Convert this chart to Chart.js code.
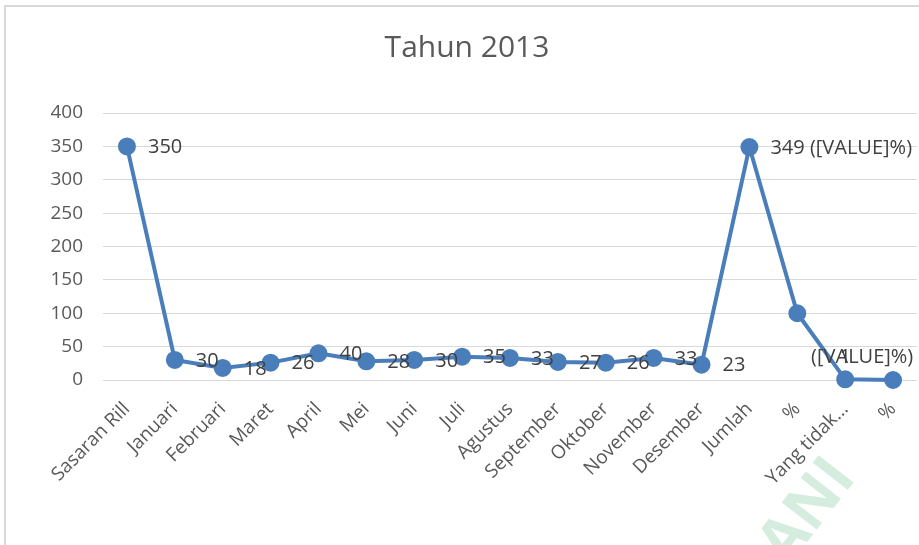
<!DOCTYPE html>
<html>
<head>
<meta charset="utf-8">
<script src="https://cdn.jsdelivr.net/npm/chart.js@4"></script>
<style>
  html, body { margin: 0; padding: 0; background: #fff; }
  #wrap { position: relative; width: 919px; height: 545px; }
</style>
</head>
<body>
<div id="wrap"><canvas id="lineChart" width="919" height="545"></canvas></div>
<script>
// data
const categories = ['Sasaran Rill', 'Januari', 'Februari', 'Maret', 'April', 'Mei', 'Juni', 'Juli',
  'Agustus', 'September', 'Oktober', 'November', 'Desember', 'Jumlah', '%', 'Yang tidak...', '%'];
const values = [350, 30, 18, 26, 40, 28, 30, 35, 33, 27, 26, 33, 23, 349, 100, 1, 0];
const pointLabels = ['350', '30', '18', '26', '40', '28', '30', '35', '33', '27', '26', '33', '23',
  '349 ([VALUE]%)', '', '1', ''];
const yTicks = [0, 50, 100, 150, 200, 250, 300, 350, 400];
const chartTitle = 'Tahun 2013';

const FONT = '"Open Sans", Lato, sans-serif';
const GREY = '#595959';

// frame, title and the faint watermark
const decor = {
  id: 'decor',
  beforeDraw(chart) {
    const ctx = chart.ctx;
    ctx.save();
    ctx.strokeStyle = '#d9d9d9';
    ctx.lineWidth = 2;
    ctx.beginPath();
    ctx.moveTo(5, 560);
    ctx.lineTo(5, 6);
    ctx.lineTo(930, 6);
    ctx.stroke();

    ctx.fillStyle = GREY;
    ctx.font = '30px ' + FONT;
    ctx.textAlign = 'center';
    ctx.textBaseline = 'middle';
    ctx.fillText(chartTitle, 467, 48);

    ctx.translate(808, 512);
    ctx.rotate(-52 * Math.PI / 180);
    ctx.fillStyle = 'rgba(160, 215, 185, 0.45)';
    ctx.font = 'bold 62px ' + FONT;
    ctx.fillText('ANI', 0, 0);
    ctx.restore();
  }
};

// data labels, drawn to the right of each point like the original
const pointText = {
  id: 'pointText',
  afterDatasetsDraw(chart) {
    const ctx = chart.ctx;
    const pts = chart.getDatasetMeta(0).data;
    ctx.save();
    ctx.font = '20px ' + FONT;
    ctx.fillStyle = '#404040';
    ctx.textBaseline = 'middle';
    pts.forEach((p, i) => {
      const txt = pointLabels[i];
      if (!txt) return;
      if (categories[i] === 'Yang tidak...') {
        // label sits above the point, overlapping the percent placeholder
        ctx.textAlign = 'center';
        ctx.fillText('([VALUE]%)', p.x + 17, p.y - 22);
        ctx.fillText(txt, p.x, p.y - 22);
        return;
      }
      ctx.textAlign = 'left';
      ctx.fillText(txt, p.x + 21, p.y + 1);
    });
    ctx.restore();
  }
};

const ctx = document.getElementById('lineChart').getContext('2d');
const lineChart = new Chart(ctx, {
  type: 'line',
  data: {
    labels: categories,
    datasets: [{
      label: chartTitle,
      data: values,
      borderColor: '#4a7ebb',
      backgroundColor: '#4a7ebb',
      borderWidth: 4,
      pointRadius: 7,
      pointHoverRadius: 7,
      tension: 0,
      clip: false
    }]
  },
  options: {
    responsive: false,
    animation: false,
    layout: { autoPadding: false, padding: { top: 113, right: 2, left: 0, bottom: 0 } },
    plugins: {
      legend: { display: false },
      title: { display: false },
      tooltip: { enabled: false }
    },
    scales: {
      x: {
        offset: true,
        grid: { display: false },
        border: { display: false },
        ticks: {
          color: GREY,
          font: { family: FONT, size: 19 },
          minRotation: 45,
          maxRotation: 45,
          autoSkip: false,
          padding: 10
        },
        afterFit(scale) {
          scale.height = 165;
          scale.paddingLeft = 0;
          scale.paddingRight = 0;
        }
      },
      y: {
        min: 0,
        max: 400,
        afterBuildTicks(scale) { scale.ticks = yTicks.map(v => ({ value: v })); },
        grid: { color: '#d9d9d9', lineWidth: 1, drawTicks: false },
        border: { display: false },
        ticks: {
          color: GREY,
          font: { family: FONT, size: 19 },
          padding: 20
        },
        afterFit(scale) {
          scale.width = 103;
          scale.paddingTop = 0;
          scale.paddingBottom = 0;
        }
      }
    }
  },
  plugins: [decor, pointText]
});
</script>
</body>
</html>
